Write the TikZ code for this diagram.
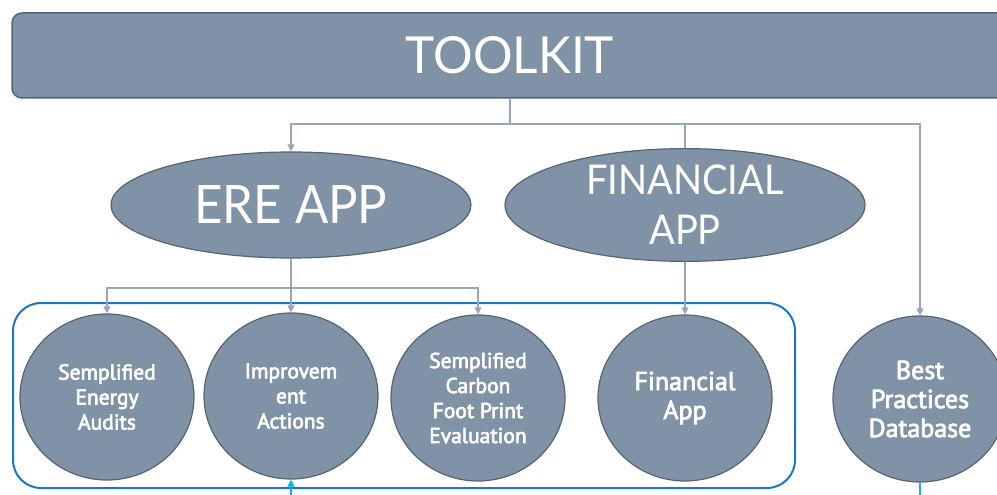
\documentclass[tikz,border=0pt]{standalone}
\usepackage{fontspec}
\setmainfont{PT Sans}
\newfontfamily\headfont[FakeStretch=0.93]{Lato}
\newfontfamily\barfont[FakeStretch=0.97]{Lato}
\newfontfamily\toolfont[FakeBold=3]{PT Sans}
\usepackage{tikz}
\usetikzlibrary{positioning, arrows.meta, shapes}

\definecolor{slate}{RGB}{127,146,166}
\definecolor{slateedge}{RGB}{86,100,113}
\definecolor{linkgray}{RGB}{150,167,186}
\definecolor{boxblue}{RGB}{27,117,201}
\definecolor{feedcyan}{RGB}{22,176,240}

\begin{document}
\begin{tikzpicture}[
    x=1pt, y=-1pt,
    every node/.style={align=center, text=white},
    bar/.style={draw=slateedge, fill=slate, line width=1.5pt, rounded corners=10pt, minimum width=996pt, minimum height=85pt, font=\barfont\fontsize{51}{55}\selectfont},
    app/.style={ellipse, draw=slateedge, fill=slate, line width=1.2pt, minimum width=360pt, minimum height=106pt, inner sep=0pt},
    tool/.style={ellipse, draw=slateedge, fill=slate, line width=1.2pt, minimum width=174pt, minimum height=166pt, inner sep=0pt, font=\toolfont\fontsize{21.5}{25}\selectfont},
    bigtool/.style={tool, font=\toolfont\fontsize{26}{29}\selectfont},
    link/.style={draw=linkgray, line width=1.2pt},
    arrow/.style={-{Triangle[length=7pt, width=7pt]}}
]
    \useasboundingbox (0,0) rectangle (997,495);
    \clip (0,0) rectangle (997,495);

    \node (suite) [draw=boxblue, line width=2pt, rounded corners=28pt, minimum width=782pt, minimum height=185pt] at (404,395.5) {};

    \node (toolkit) [bar] at (510,55.5) {TOOLKIT};
    \node (ere) [app, font=\headfont\fontsize{53}{58}\selectfont] at (291,205) {ERE APP};
    \node (fin) [app, font=\headfont\fontsize{41}{50}\selectfont] at (685,205) {FINANCIAL\\APP};

    \node (audit) [tool] at (107,397) {Semplified\\Energy\\Audits};
    \node (impr) [tool] at (291,396) {Improvem\\ent\\Actions};
    \node (carbon) [tool] at (478,398) {Semplified\\Carbon\\Foot Print\\Evaluation};
    \node (finapp) [bigtool] at (685,398) {Financial\\App};
    \node (best) [bigtool] at (920,399) {Best\\Practices\\Database};

    \coordinate (split) at (510,124);
    \coordinate (erejoin) at (291,288);
    \draw [link] (toolkit.south) -- (split);
    \draw [link, arrow] (split) -| (ere.north);
    \draw [link] (split) -| (fin.north);
    \draw [link, arrow] (split) -| (best.north);

    \draw [link] (ere.south) -- (erejoin);
    \draw [link, arrow] (erejoin) -| (audit.north);
    \draw [link, arrow] (erejoin) -- (impr.north);
    \draw [link, arrow] (erejoin) -| (carbon.north);
    \draw [link, arrow] (fin.south) -- (finapp.north);

    \coordinate (feedin) at (291,500);
    \coordinate (feedout) at (920,500);
    \draw [feedcyan, line width=2pt, arrow] (feedin) -- (impr.south);
    \draw [feedcyan, line width=2pt] (best.south) -- (feedout);
\end{tikzpicture}
\end{document}
